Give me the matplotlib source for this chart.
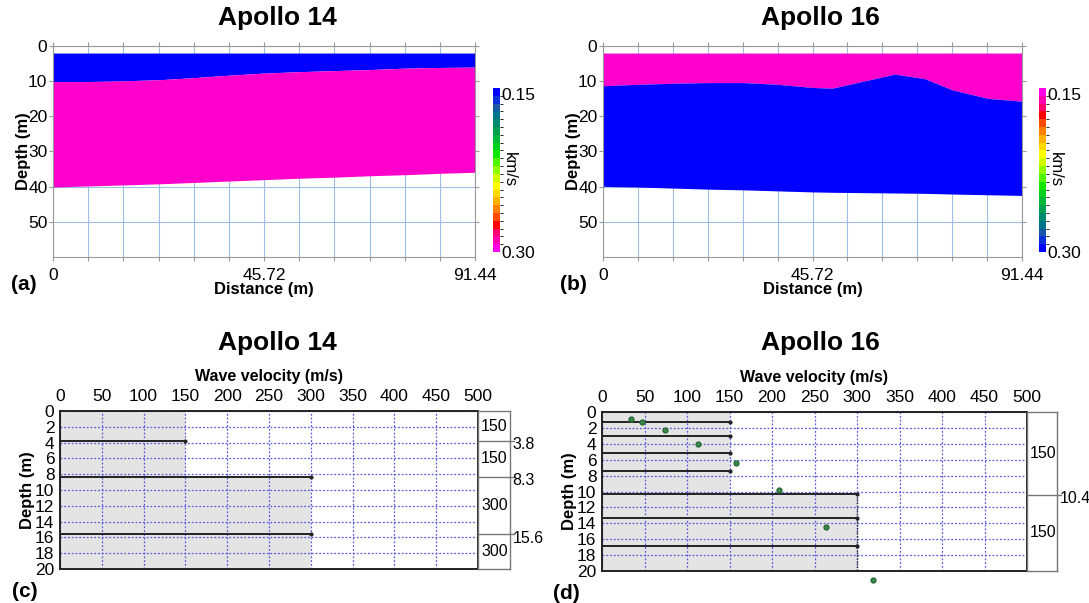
import numpy as np
import matplotlib.pyplot as plt
from matplotlib.colors import ListedColormap, BoundaryNorm
from matplotlib.cm import ScalarMappable

plt.rcParams['font.family'] = ['Liberation Sans', 'DejaVu Sans']

# ---- top panels: refraction profiles (distance m, depth m) ----
dist14 = [0, 7.62, 15.24, 22.86, 30.48, 38.1, 45.72, 53.34, 60.96, 68.58, 76.2, 83.82, 91.44]
iface14 = [10.1, 10.1, 9.9, 9.6, 9.0, 8.3, 7.7, 7.3, 7.0, 6.7, 6.3, 6.1, 6.0]
base14 = [40.1, 39.8, 39.5, 39.2, 38.8, 38.4, 38.0, 37.6, 37.3, 36.9, 36.6, 36.2, 35.9]

dist16 = [0, 7.6, 15.3, 22.9, 30.5, 38.2, 45.8, 50.0, 63.7, 70.2, 76.3, 84.0, 91.44]
iface16 = [11.3, 10.9, 10.6, 10.4, 10.4, 10.9, 11.8, 12.0, 8.0, 9.3, 12.5, 14.9, 15.7]
base16 = [39.9, 40.1, 40.4, 40.7, 40.9, 41.2, 41.5, 41.6, 41.8, 41.9, 42.1, 42.3, 42.5]
surface_depth = 2.0

# ---- bottom panels: velocity-depth models ----
c_bounds = [0, 3.8, 8.3, 15.6, 20]
c_vel = [150, 150, 300, 300]
c_line_depth = [3.8, 8.3, 15.6]
c_line_end = [150, 300, 300]
c_box_labels = ['150', '150', '300', '300']

d_bounds = [0, 10.3, 20]
d_vel = [150, 300]
d_line_depth = [1.3, 3.0, 5.1, 7.4, 10.3, 13.3, 16.9]
d_line_end = [150, 150, 150, 150, 300, 300, 300]
d_box_bounds = [0, 10.4, 20]
d_box_labels = ['150', '150']
d_pts_v = [34, 47, 74, 113, 158, 208, 263, 319]
d_pts_z = [0.9, 1.3, 2.3, 4.0, 6.4, 9.8, 14.5, 21.1]

cbar_colors = ['#0000ff', '#0a2fd8', '#1a55a8', '#00748c', '#008a70', '#00a050',
               '#00b83a', '#00d020', '#10e600', '#50f500', '#90ff00', '#d0ff00',
               '#ffff00', '#ffd800', '#ffb000', '#ff8000', '#ff4a00', '#ff0000',
               '#ff0070', '#ff00b0', '#ff00e8']
BLUE = '#0000ff'
PINK = '#ff00cc'

fig = plt.figure(figsize=(10.89, 6.03), dpi=100)
W, H = 1089, 603


def box(x0, y0, x1, y1):
    return [x0 / W, 1 - y1 / H, (x1 - x0) / W, (y1 - y0) / H]


def profile(ax, cax, x, iface, base, c_up, c_low, cmap, label):
    ax.fill_between(x, surface_depth, iface, color=c_up, lw=0)
    ax.fill_between(x, iface, base, color=c_low, lw=0)
    ax.set_xlim(0, 91.44)
    ax.set_ylim(60, 0)
    ax.set_xticks(np.linspace(0, 91.44, 13))
    ax.set_xticklabels(['0'] + [''] * 5 + ['45.72'] + [''] * 5 + ['91.44'])
    ax.set_yticks([0, 10, 20, 30, 40, 50])
    ax.set_axisbelow(True)
    ax.grid(True, color='#9dbde3', lw=0.8)
    ax.tick_params(direction='out', length=3, color='#999999', top=True, right=True,
                   labelsize=12.5, pad=1)
    ax.tick_params(axis='x', pad=5)
    for s in ax.spines.values():
        s.set_color('#999999')
    ax.set_xlabel('Distance (m)', fontsize=12, fontweight='bold', labelpad=-1)
    ax.set_ylabel('Depth (m)', fontsize=12, fontweight='bold', labelpad=-2)
    ax.text(-0.07, -0.13, label, transform=ax.transAxes, fontsize=15,
            fontweight='bold', ha='center', va='center')

    levels = np.linspace(0.15, 0.30, cmap.N + 1)
    norm = BoundaryNorm(levels, cmap.N)
    cb = fig.colorbar(ScalarMappable(norm=norm, cmap=cmap), cax=cax, drawedges=True)
    cb.outline.set_visible(False)
    cb.dividers.set_color('#555555')
    cb.dividers.set_linewidth(0.4)
    cax.invert_yaxis()
    cb.set_ticks([0.15, 0.30])
    cb.set_ticklabels(['0.15', '0.30'])
    cax.tick_params(length=0, labelsize=12.5, pad=1)
    cax.get_yticklabels()[0].set_va('top')
    cax.text(2.3, 0.5, 'km/s', transform=cax.transAxes, rotation=270,
             fontsize=12, ha='center', va='center')


def well(ax, bx, bounds, vel, line_z, line_end, bbounds, blabels, bnotes, label):
    for i in range(len(vel)):
        ax.fill_betweenx([bounds[i], bounds[i + 1]], 0, vel[i], color='#e4e4e4', lw=0)
    for z, v in zip(line_z, line_end):
        ax.plot([0, v], [z, z], color='#222222', lw=1.4, zorder=3)
        ax.plot([v], [z], 'o', color='#222222', ms=2, zorder=3)
    ax.set_xlim(0, 500)
    ax.set_ylim(20, 0)
    ax.set_xticks(np.arange(0, 501, 50))
    ax.set_yticks(np.arange(0, 21, 2))
    ax.xaxis.tick_top()
    ax.tick_params(length=0, labelsize=12.5, pad=5)
    ax.tick_params(axis='y', pad=4)
    ax.grid(True, color='#5a5ae0', lw=0.9, linestyle=(0, (1.5, 1.5)))
    for s in ax.spines.values():
        s.set_color('#222222')
        s.set_linewidth(1.4)
    ax.set_ylabel('Depth (m)', fontsize=12, fontweight='bold', labelpad=0)
    ax.set_xlabel('Wave velocity (m/s)', fontsize=11.5, fontweight='bold', labelpad=6)
    ax.xaxis.set_label_position('top')
    ax.text(-0.085, -0.14, label, transform=ax.transAxes, fontsize=15,
            fontweight='bold', ha='center', va='center')

    bx.set_xlim(0, 1)
    bx.set_ylim(20, 0)
    bx.set_xticks([])
    bx.set_yticks([])
    for s in bx.spines.values():
        s.set_color('#777777')
        s.set_linewidth(1.0)
    for i, t in enumerate(blabels):
        bx.text(0.1, (bbounds[i] + bbounds[i + 1]) / 2, t, fontsize=11.5,
                ha='left', va='center')
    for z, note in zip(bbounds[1:-1], bnotes):
        bx.plot([0, 1.12], [z, z], color='#777777', lw=1.0, clip_on=False)
        bx.text(1.08, z + 0.5, note, fontsize=11.5, ha='left', va='center')


cmap_a = ListedColormap(cbar_colors)
cmap_b = ListedColormap(cbar_colors[::-1])

ax_a = fig.add_axes(box(53, 46, 475, 257))
cax_a = fig.add_axes(box(493, 88, 500, 252))
profile(ax_a, cax_a, dist14, iface14, base14, BLUE, PINK, cmap_a, '(a)')

ax_b = fig.add_axes(box(603, 46, 1022, 257))
cax_b = fig.add_axes(box(1039, 88, 1046, 252))
profile(ax_b, cax_b, dist16, iface16, base16, PINK, BLUE, cmap_b, '(b)')

ax_c = fig.add_axes(box(60, 411, 478, 569))
bx_c = fig.add_axes(box(478, 411, 510, 569))
well(ax_c, bx_c, c_bounds, c_vel, c_line_depth, c_line_end,
     c_bounds, c_box_labels, ['3.8', '8.3', '15.6'], '(c)')

ax_d = fig.add_axes(box(602, 412, 1027, 571))
bx_d = fig.add_axes(box(1027, 412, 1057, 571))
well(ax_d, bx_d, d_bounds, d_vel, d_line_depth, d_line_end,
     d_box_bounds, d_box_labels, ['10.4'], '(d)')
ax_d.plot([300, 300], [d_bounds[1], 20], color='#222222', lw=1.0, ls=(0, (1, 1)), zorder=3)
ax_d.plot(d_pts_v, d_pts_z, 'o', color='#3a8a4a', mec='#2a6a35', ms=3.5,
          clip_on=False, zorder=4)

for x, y, t in [(277, 18, 'Apollo 14'), (820, 18, 'Apollo 16'),
                (277, 343, 'Apollo 14'), (820, 343, 'Apollo 16')]:
    fig.text(x / W, 1 - y / H, t, fontsize=19, fontweight='bold', ha='center', va='center')

fig.savefig('out.png', dpi=100)
